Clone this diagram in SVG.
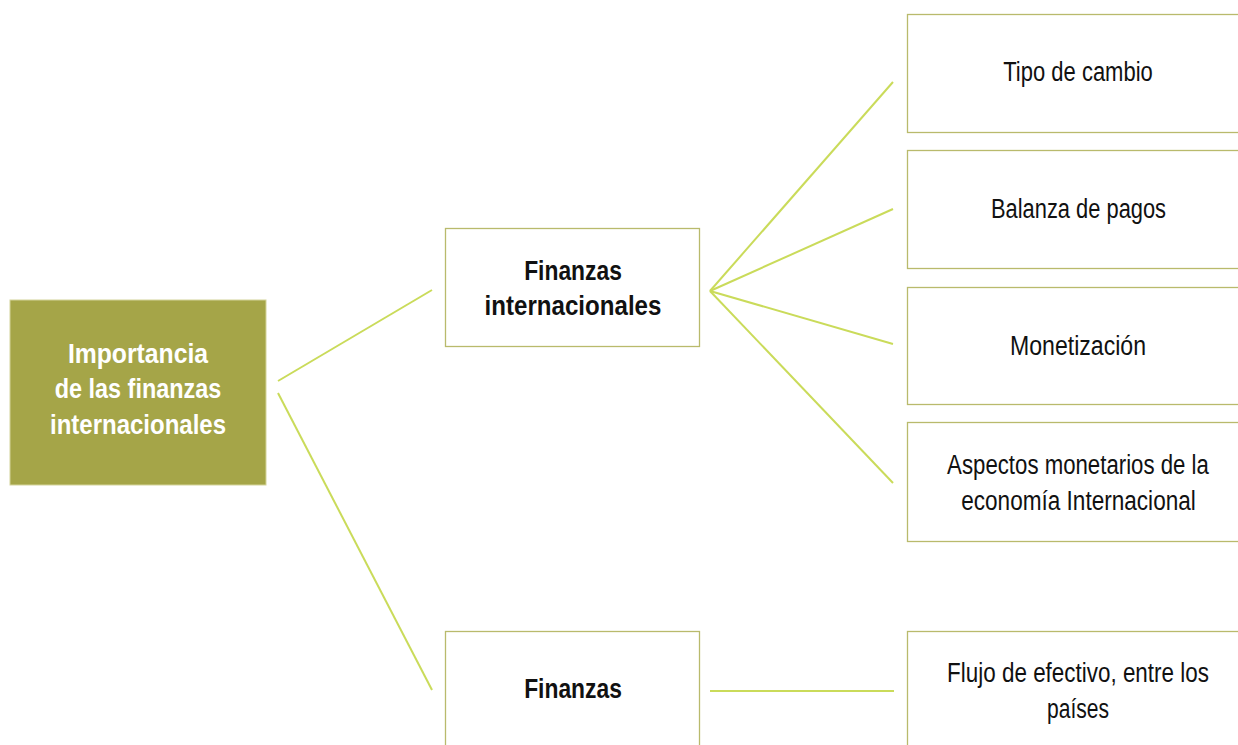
<svg xmlns="http://www.w3.org/2000/svg" width="1238" height="745" viewBox="0 0 1238 745">
<style>
.box{fill:#ffffff;stroke:#B9BA6C;stroke-width:1.3}
.main{fill:#A5A548;stroke:#D4D49A;stroke-width:1}
.t{font-family:"Liberation Sans",Arial,sans-serif;font-size:27px;fill:#111111;text-anchor:middle}
.b{font-weight:bold}
.w{fill:#ffffff}
.c{stroke:#CADB5A;stroke-width:2;fill:none}
</style>
<rect width="1238" height="745" fill="#ffffff"/>
<g id="connectors">
<line class="c" x1="278" y1="381" x2="432" y2="290"/>
<line class="c" x1="278" y1="393" x2="432" y2="690"/>
<line class="c" x1="710" y1="291" x2="893" y2="82"/>
<line class="c" x1="710" y1="291" x2="893" y2="209"/>
<line class="c" x1="710" y1="291" x2="893" y2="344"/>
<line class="c" x1="710" y1="291" x2="893" y2="483"/>
<line class="c" x1="710" y1="691" x2="894" y2="691"/>
</g>
<g id="n-main">
<rect class="main" x="10" y="300" width="256" height="185"/>
<text class="t b w" transform="translate(138,363) scale(0.85,1)" textLength="165" lengthAdjust="spacingAndGlyphs">Importancia</text>
<text class="t b w" transform="translate(138,398) scale(0.85,1)" textLength="196" lengthAdjust="spacingAndGlyphs">de las finanzas</text>
<text class="t b w" transform="translate(138,434) scale(0.85,1)" textLength="207" lengthAdjust="spacingAndGlyphs">internacionales</text>
</g>
<g id="n-fi">
<rect class="box" x="445.5" y="228.5" width="254" height="118"/>
<text class="t b" transform="translate(573,280) scale(0.85,1)" textLength="115" lengthAdjust="spacingAndGlyphs">Finanzas</text>
<text class="t b" transform="translate(573,315) scale(0.85,1)" textLength="208" lengthAdjust="spacingAndGlyphs">internacionales</text>
</g>
<g id="n-f">
<rect class="box" x="445.5" y="631.5" width="254" height="130"/>
<text class="t b" transform="translate(573,698) scale(0.85,1)" textLength="115" lengthAdjust="spacingAndGlyphs">Finanzas</text>
</g>
<g id="n-tipo">
<rect class="box" x="907.5" y="14.5" width="340" height="118"/>
<text class="t" transform="translate(1078,81) scale(0.85,1)" textLength="176" lengthAdjust="spacingAndGlyphs">Tipo de cambio</text>
</g>
<g id="n-balanza">
<rect class="box" x="907.5" y="150.5" width="340" height="118"/>
<text class="t" transform="translate(1078.5,218) scale(0.85,1)" textLength="206" lengthAdjust="spacingAndGlyphs">Balanza de pagos</text>
</g>
<g id="n-monet">
<rect class="box" x="907.5" y="287.5" width="340" height="117"/>
<text class="t" transform="translate(1078,355) scale(0.85,1)" textLength="160" lengthAdjust="spacingAndGlyphs">Monetización</text>
</g>
<g id="n-aspectos">
<rect class="box" x="907.5" y="422.5" width="340" height="119"/>
<text class="t" transform="translate(1078,474) scale(0.85,1)" textLength="308" lengthAdjust="spacingAndGlyphs">Aspectos monetarios de la</text>
<text class="t" transform="translate(1078.5,510) scale(0.85,1)" textLength="276" lengthAdjust="spacingAndGlyphs">economía Internacional</text>
</g>
<g id="n-flujo">
<rect class="box" x="907.5" y="631.5" width="340" height="130"/>
<text class="t" transform="translate(1078,682) scale(0.85,1)" textLength="308" lengthAdjust="spacingAndGlyphs">Flujo de efectivo, entre los</text>
<text class="t" transform="translate(1078,718) scale(0.85,1)" textLength="73" lengthAdjust="spacingAndGlyphs">países</text>
</g>
</svg>
